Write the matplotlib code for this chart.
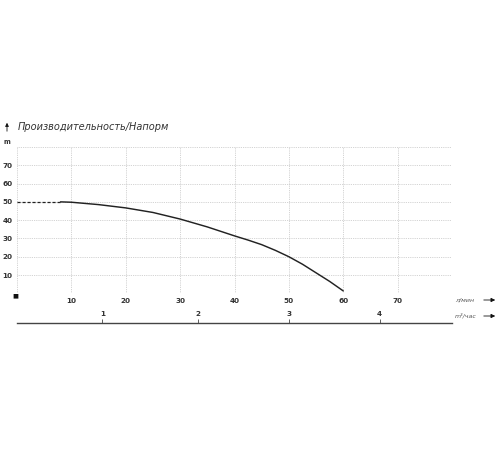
import matplotlib
matplotlib.use("Agg")
import matplotlib.pyplot as plt

# Data
flow_lpm = [8, 10, 15, 20, 25, 30, 35, 40, 42.5, 45, 47.5, 50, 52.5, 55, 57.5, 60]
head_m = [50, 49.8, 48.5, 46.7, 44.2, 40.6, 36.3, 31.4, 29.1, 26.6, 23.5, 20.0, 15.9, 11.2, 6.5, 1.3]
dash_flow = [0, 8]
dash_head = [50, 50]

x_ticks = [10, 20, 30, 40, 50, 60, 70]
y_ticks = [10, 20, 30, 40, 50, 60, 70]
grid_vals = [0, 10, 20, 30, 40, 50, 60, 70, 80]
m3_tick_pos = [15.7, 33.3, 50.0, 66.7]
m3_tick_labels = ["1", "2", "3", "4"]

title = "Производительность/Напорм"
unit_y = "m"
unit_x1 = "л/мин"
unit_x2 = "m³/час"

W, H = 500, 450
fig = plt.figure(figsize=(5, 4.5), dpi=100)
fig.patch.set_facecolor("white")

def fx(px):
    return px / W

def fy(py):
    return 1 - py / H

left, right, top, bottom = 17, 452, 147, 293.3
ax = fig.add_axes([fx(left), fy(bottom), fx(right - left), (bottom - top) / H])
ax.set_xlim(0, 80)
ax.set_ylim(0, 80)
for s in ax.spines.values():
    s.set_visible(False)

for g in grid_vals:
    ax.axhline(g, color="#c4c4c4", lw=0.6, ls=(0, (1, 1.2)), zorder=0)
    ax.axvline(g, color="#c4c4c4", lw=0.6, ls=(0, (1, 1.2)), zorder=0)

ax.plot(flow_lpm, head_m, color="#222222", lw=1.05, solid_capstyle="round",
        solid_joinstyle="round", zorder=3)
ax.plot(dash_flow, dash_head, color="#222222", lw=0.9, ls=(0, (2.5, 1.5)), zorder=3)

ax.set_xticks(x_ticks)
ax.set_xticklabels([str(v) for v in x_ticks])
ax.set_yticks(y_ticks)
ax.set_yticklabels([str(v) for v in y_ticks])
ax.tick_params(axis="both", length=0, labelsize=5.2, colors="#333333")
ax.tick_params(axis="x", pad=3.5)
ax.tick_params(axis="y", pad=3.2)
for lab in ax.get_xticklabels() + ax.get_yticklabels():
    lab.set_fontweight("bold")

# 'm' unit label and origin square
fig.text(fx(7), fy(142), unit_y, fontsize=4.8, fontweight="bold", color="#333333",
         ha="center", va="center")
fig.text(fx(15.5), fy(295.5), "■", fontsize=4.5, color="#111111", ha="center", va="center")

# Title with up arrow
fig.text(fx(18), fy(127), title, fontsize=7, style="italic", color="#333333",
         ha="left", va="center")
ax.annotate("", xy=(7, H - 120), xytext=(7, H - 134), xycoords="figure pixels",
            textcoords="figure pixels",
            arrowprops=dict(arrowstyle="-|>", color="#111111", lw=0.6, mutation_scale=5))

# Secondary m3/h scale
ax2 = fig.add_axes([fx(left), fy(323), fx(right - left), 0.0001])
ax2.set_xlim(0, 80)
ax2.set_ylim(0, 1)
ax2.patch.set_visible(False)
for k in ["left", "right", "bottom"]:
    ax2.spines[k].set_visible(False)
ax2.spines["top"].set_color("#444444")
ax2.spines["top"].set_linewidth(1.0)
ax2.xaxis.tick_top()
ax2.set_yticks([])
ax2.set_xticks(m3_tick_pos)
ax2.set_xticklabels(m3_tick_labels)
ax2.tick_params(axis="x", direction="out", length=3, width=0.6, color="#444444",
                labelsize=5.2, labelcolor="#333333", pad=1.5)
for lab in ax2.get_xticklabels():
    lab.set_fontweight("bold")

# Unit labels with arrows at right
fig.text(fx(455), fy(300), unit_x1, fontsize=4.5, style="italic", color="#555555",
         ha="left", va="center")
fig.text(fx(455), fy(316), unit_x2, fontsize=4.5, style="italic", color="#555555",
         ha="left", va="center")
for yy in (300, 316):
    ax.annotate("", xy=(498, H - yy), xytext=(481, H - yy), xycoords="figure pixels",
                textcoords="figure pixels",
                arrowprops=dict(arrowstyle="-|>", color="#111111", lw=0.6, mutation_scale=6))

fig.savefig("out.png", dpi=100, facecolor="white")
